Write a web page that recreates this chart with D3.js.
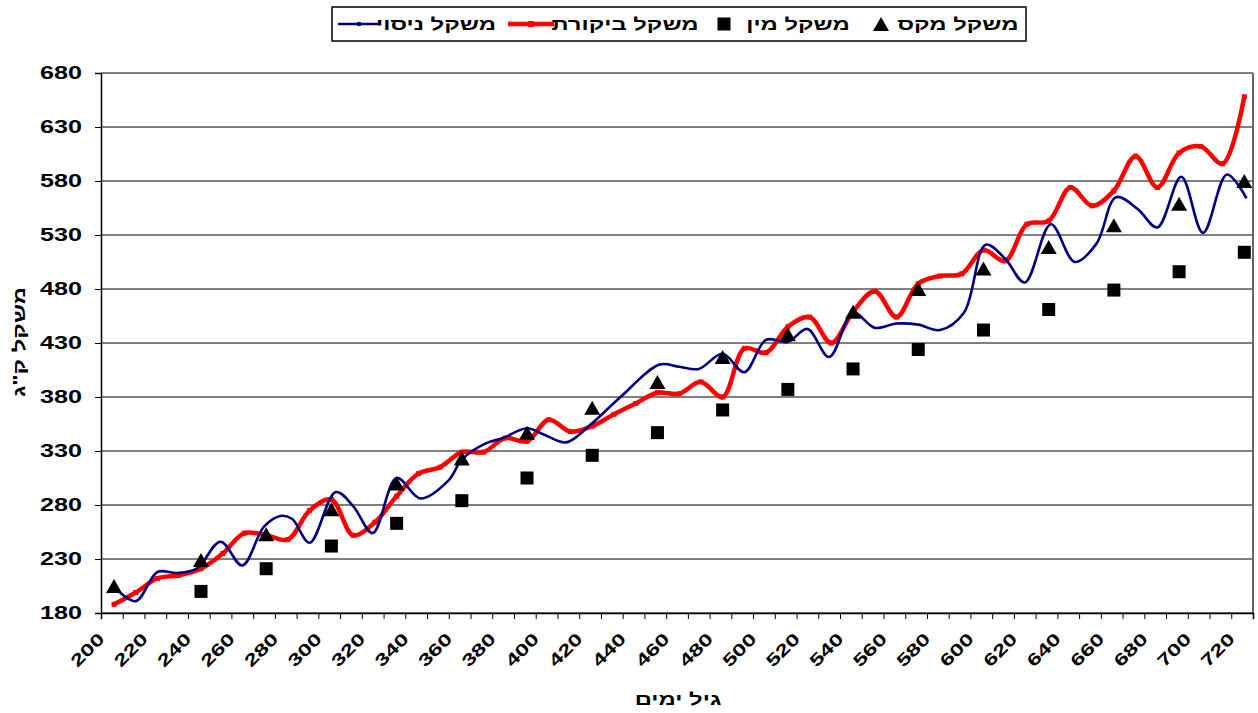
<!DOCTYPE html>
<html>
<head>
<meta charset="utf-8">
<script src="https://cdn.jsdelivr.net/npm/d3@7"></script>
<style>
body { margin: 0; background: #fff; }
text { font-family: "Liberation Sans", Arial, sans-serif; font-weight: bold; fill: #000; }
</style>
</head>
<body>
<div id="chart"></div>
<script>
// series
let trialDays = [206, 216, 226, 235, 244, 255, 265, 275, 283, 288, 296, 308, 316, 325, 336, 347, 360, 366, 377, 385, 396, 404, 414, 425, 439, 457, 466, 475, 486, 496, 506, 516, 525, 535, 546, 556, 566, 576, 586, 597, 607, 616, 625, 637, 648, 658, 667, 677, 686, 697, 707, 718, 727];
let trialWeight = [204, 191, 218, 217, 221, 246, 224, 260, 270, 267, 245, 292, 279, 254, 305, 286, 303, 322, 337, 342, 351, 345, 338, 354, 380, 410, 408, 406, 420, 403, 433, 431, 443, 417, 458, 444, 448, 447, 442, 458, 521, 508, 486, 540, 505, 522, 565, 554, 537, 584, 532, 586, 564];

let controlDays = [206, 216, 226, 236, 246, 256, 266, 276, 286, 296, 306, 316, 326, 336, 346, 356, 366, 376, 386, 396, 406, 416, 426, 436, 446, 456, 466, 476, 486, 496, 506, 516, 526, 536, 546, 556, 566, 576, 586, 596, 606, 616, 626, 636, 646, 656, 666, 676, 686, 696, 706, 716, 726];
let controlWeight = [188, 199, 212, 215, 221, 235, 254, 252, 248, 275, 285, 252, 264, 288, 309, 315, 329, 329, 342, 339, 359, 348, 353, 364, 374, 384, 383, 394, 380, 425, 421, 445, 454, 430, 459, 478, 454, 485, 492, 494, 516, 506, 540, 543, 574, 557, 571, 603, 574, 606, 612, 596, 658];

let minDays = [246, 276, 306, 336, 366, 396, 426, 456, 486, 516, 546, 576, 606, 636, 666, 696, 726];
let minWeight = [200, 221, 242, 263, 284, 305, 326, 347, 368, 387, 406, 424, 442, 461, 479, 496, 514];

let maxDays = [206, 246, 276, 306, 336, 366, 396, 426, 456, 486, 516, 546, 576, 606, 636, 666, 696, 726];
let maxWeight = [205, 229, 253, 276, 300, 323, 347, 370, 394, 417, 438, 459, 480, 499, 519, 539, 559, 580];

let yTicks = [180, 230, 280, 330, 380, 430, 480, 530, 580, 630, 680];
let xLabels = [200, 220, 240, 260, 280, 300, 320, 340, 360, 380, 400, 420, 440, 460, 480, 500, 520, 540, 560, 580, 600, 620, 640, 660, 680, 700, 720];

let legendNames = ['משקל ניסוי', 'משקל ביקורת', 'משקל מין', 'משקל מקס'];
let xTitle = 'גיל ימים';
let yTitle = 'משקל ק"ג';

let w = 1258;
let h = 713;
let sx = 1.4; // the excel text is drawn wide

let svg = d3.select('#chart')
  .append('svg')
  .attr('width', w)
  .attr('height', h);

let xScale = d3.scaleLinear().domain([200, 730]).range([101, 1253]);
let yScale = d3.scaleLinear().domain([180, 680]).range([613, 73]);

// grid
svg.append('g')
  .selectAll('line')
  .data(yTicks)
  .enter()
  .append('line')
  .attr('x1', xScale(200))
  .attr('x2', xScale(730))
  .attr('y1', d => yScale(d))
  .attr('y2', d => yScale(d))
  .style('stroke', '#000')
  .style('stroke-width', 1);

// right border of plot
svg.append('line')
  .attr('x1', xScale(730)).attr('x2', xScale(730))
  .attr('y1', yScale(680)).attr('y2', yScale(180))
  .style('stroke', '#666')
  .style('stroke-width', 2);

// axes
let yAxis = d3.axisLeft(yScale).tickValues(yTicks).tickSize(6).tickFormat(d3.format('d'));
let yg = svg.append('g')
  .attr('transform', 'translate(' + xScale(200) + ',0)')
  .call(yAxis);
yg.select('.domain').style('stroke-width', 1.5);
yg.selectAll('text')
  .style('font-size', '18px')
  .attr('x', -19 / sx)
  .attr('transform', 'scale(' + sx + ',1)');

let tickDays = d3.range(200, 731, 10);
let xAxis = d3.axisBottom(xScale)
  .tickValues(tickDays)
  .tickSize(6)
  .tickFormat(d => xLabels.includes(d) ? d : '');
let xg = svg.append('g')
  .attr('transform', 'translate(0,' + yScale(180) + ')')
  .call(xAxis);
xg.select('.domain').style('stroke-width', 1.5);
xg.selectAll('text')
  .style('font-size', '17px')
  .attr('text-anchor', 'end')
  .attr('x', 0)
  .attr('y', 0)
  .attr('dy', 0)
  .attr('transform', 'translate(4,27) rotate(-45) scale(' + sx + ',1)');

// lines
let line = d3.line()
  .x(d => xScale(d[0]))
  .y(d => yScale(d[1]))
  .curve(d3.curveCatmullRom.alpha(0.5));

svg.append('path')
  .datum(controlDays.map((d, i) => [d, controlWeight[i]]))
  .attr('d', line)
  .style('fill', 'none')
  .style('stroke', '#ff0000')
  .style('stroke-width', 4.5);

svg.append('g')
  .selectAll('rect')
  .data(controlDays)
  .enter()
  .append('rect')
  .attr('x', (d) => xScale(d) - 2.5)
  .attr('y', (d, i) => yScale(controlWeight[i]) - 2.5)
  .attr('width', 5)
  .attr('height', 5)
  .style('fill', '#ff0000');

svg.append('path')
  .datum(trialDays.map((d, i) => [d, trialWeight[i]]))
  .attr('d', line)
  .style('fill', 'none')
  .style('stroke', '#000080')
  .style('stroke-width', 2.6);

// min / max markers
svg.append('g')
  .selectAll('rect')
  .data(minDays)
  .enter()
  .append('rect')
  .attr('x', (d) => xScale(d) - 6.5)
  .attr('y', (d, i) => yScale(minWeight[i]) - 6.5)
  .attr('width', 13)
  .attr('height', 13)
  .style('fill', '#000');

let tri = 'M0,-7L8,7L-8,7Z';
svg.append('g')
  .selectAll('path')
  .data(maxDays)
  .enter()
  .append('path')
  .attr('d', tri)
  .attr('transform', (d, i) => 'translate(' + xScale(d) + ',' + yScale(maxWeight[i]) + ')')
  .style('fill', '#000');

// titles
svg.append('text')
  .text(yTitle)
  .attr('text-anchor', 'middle')
  .style('font-size', '17px')
  .attr('transform', 'translate(25,342) rotate(-90) scale(' + sx + ',1)');

svg.append('text')
  .text(xTitle)
  .attr('text-anchor', 'middle')
  .style('font-size', '17px')
  .attr('transform', 'translate(678,705) scale(' + sx + ',1)');

// legend
svg.append('rect')
  .attr('x', 332)
  .attr('y', 7)
  .attr('width', 694)
  .attr('height', 34)
  .style('fill', '#fff')
  .style('stroke', '#000')
  .style('stroke-width', 1.5);

let ly = 24;
svg.append('line')
  .attr('x1', 338).attr('x2', 380).attr('y1', ly).attr('y2', ly)
  .style('stroke', '#000080').style('stroke-width', 2.6);
svg.append('rect')
  .attr('x', 357).attr('y', ly - 2).attr('width', 4).attr('height', 4)
  .style('fill', '#000080');
svg.append('line')
  .attr('x1', 508).attr('x2', 554).attr('y1', ly).attr('y2', ly)
  .style('stroke', '#ff0000').style('stroke-width', 4.5);
svg.append('rect')
  .attr('x', 528).attr('y', ly - 3).attr('width', 6).attr('height', 6)
  .style('fill', '#ff0000');
svg.append('rect')
  .attr('x', 724 - 6.5).attr('y', ly - 6.5).attr('width', 13).attr('height', 13)
  .style('fill', '#000');
svg.append('path')
  .attr('d', tri)
  .attr('transform', 'translate(881,' + ly + ')')
  .style('fill', '#000');

let legendCx = [436, 625, 798, 958];
svg.append('g')
  .selectAll('text')
  .data(legendNames)
  .enter()
  .append('text')
  .text(d => d)
  .attr('text-anchor', 'middle')
  .style('font-size', '17px')
  .attr('x', (d, i) => legendCx[i] / sx)
  .attr('y', ly + 6)
  .attr('transform', 'scale(' + sx + ',1)');
</script>
</body>
</html>
